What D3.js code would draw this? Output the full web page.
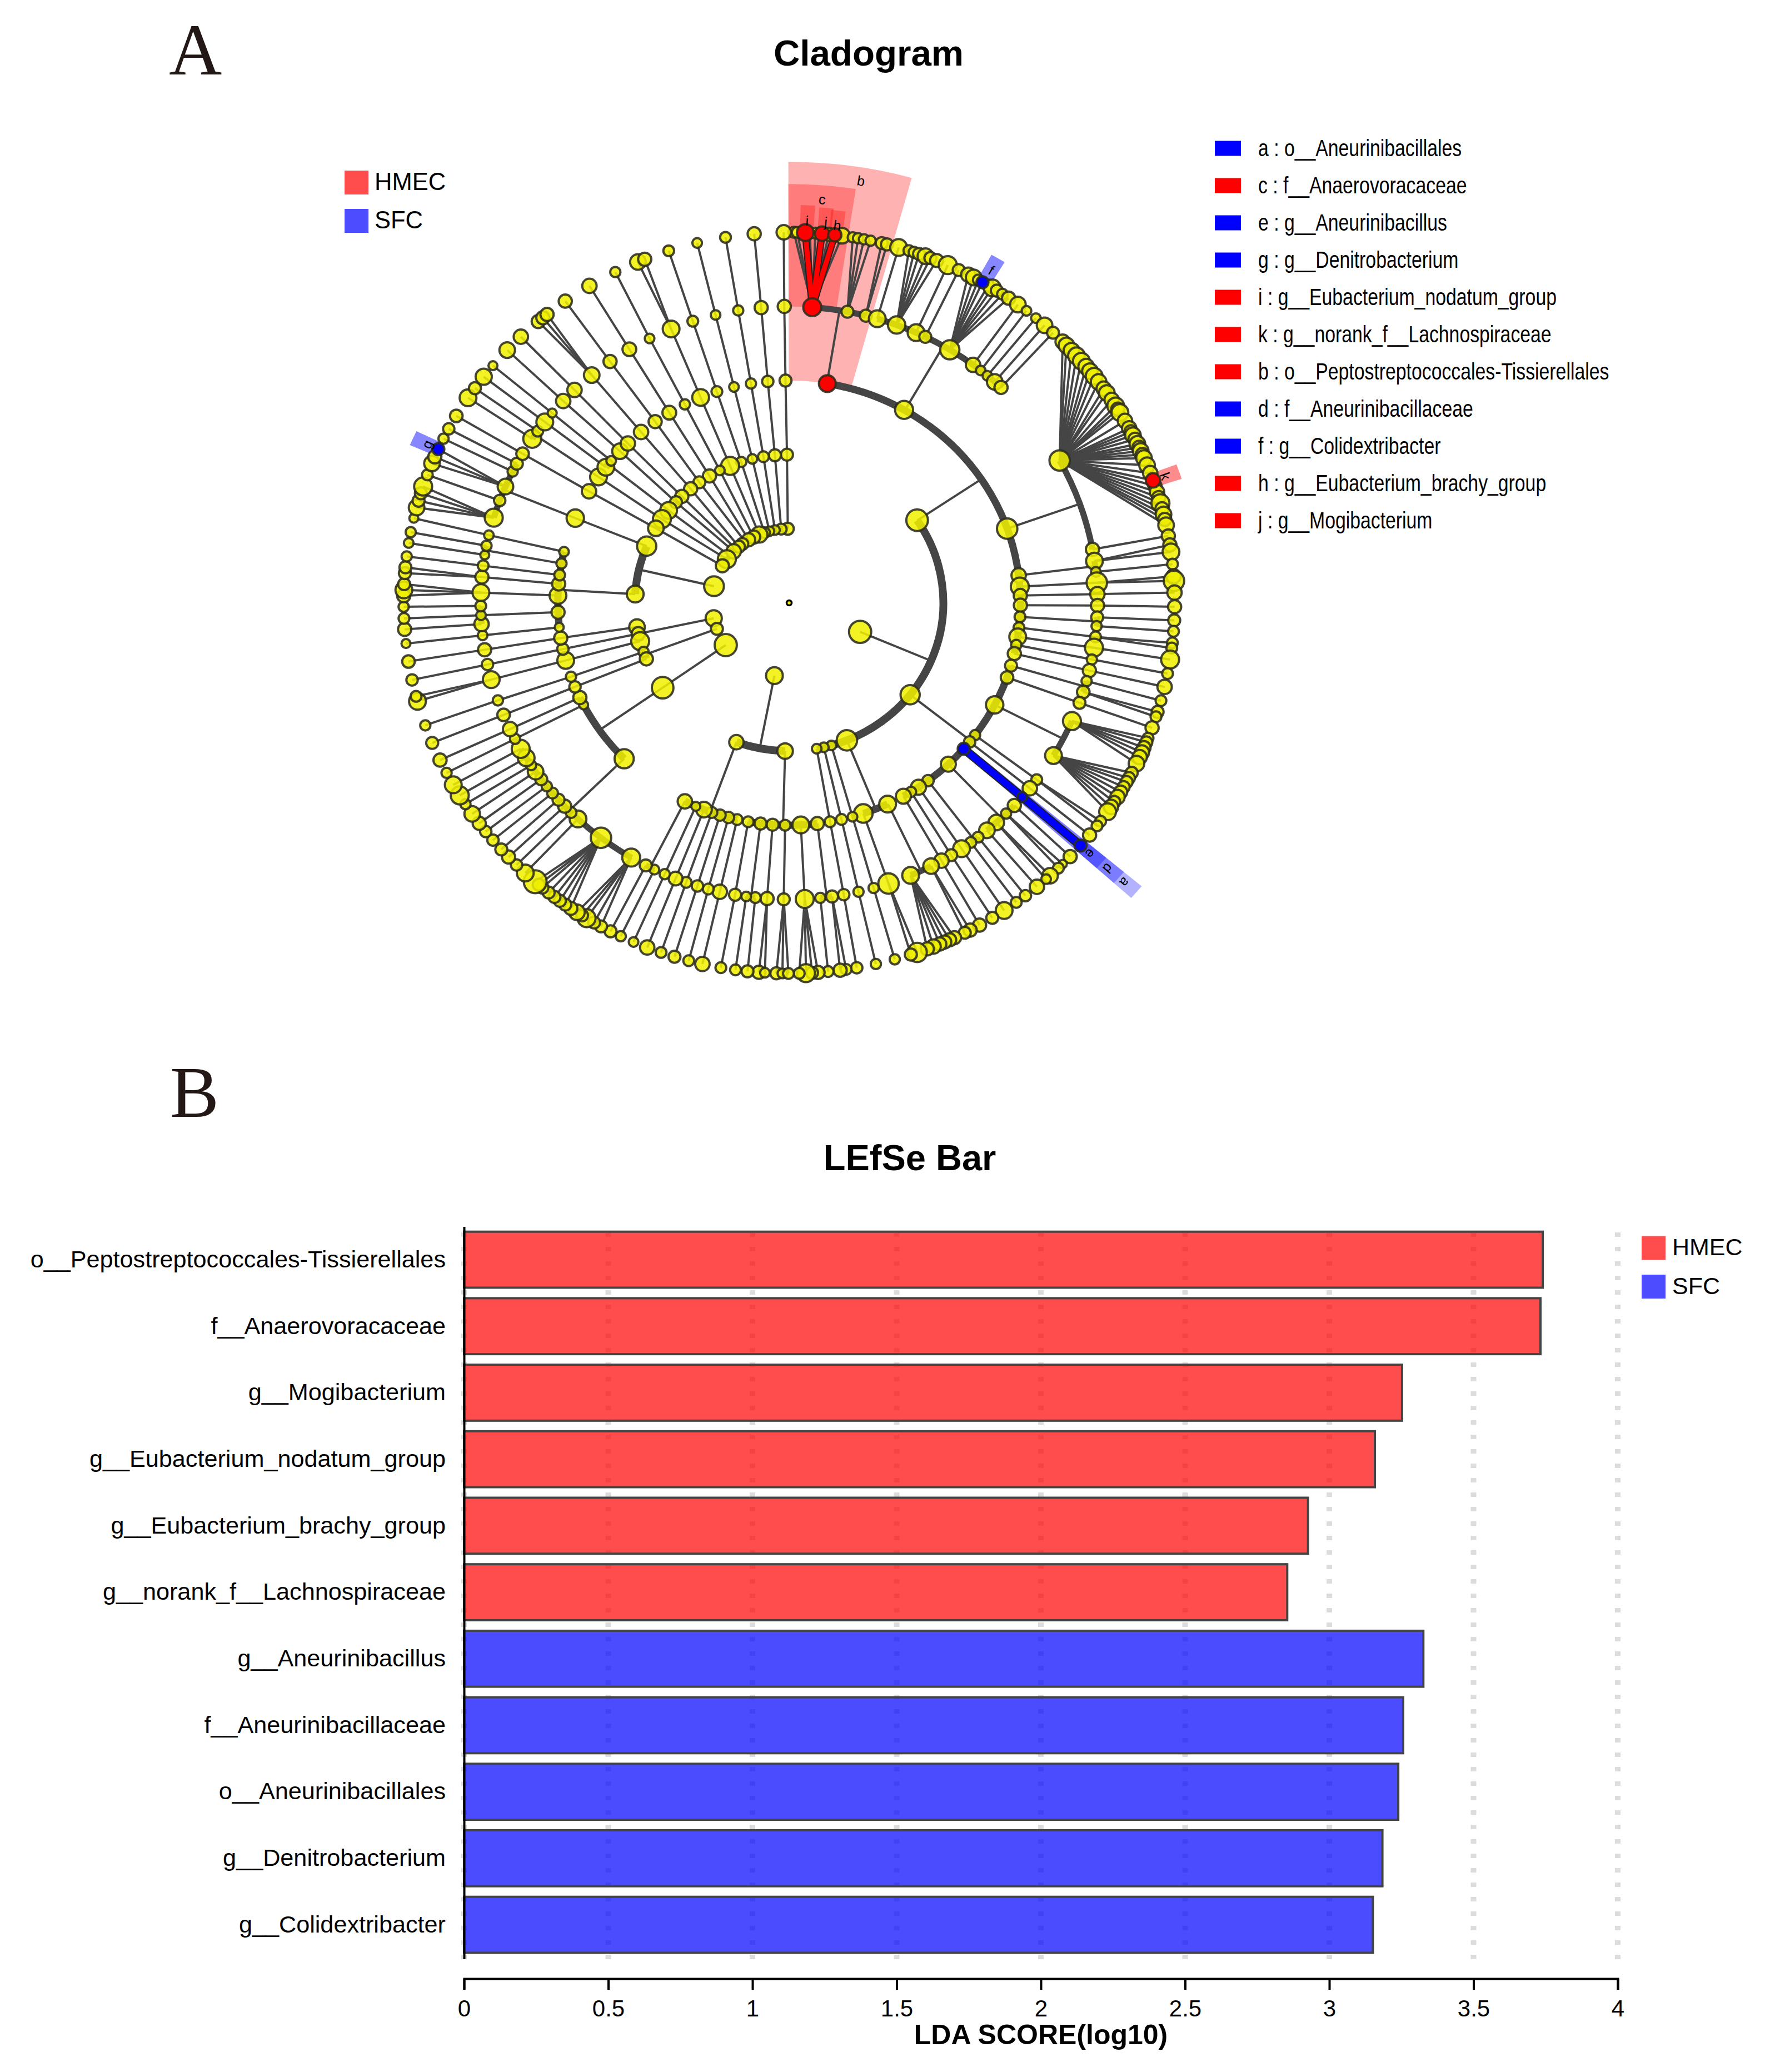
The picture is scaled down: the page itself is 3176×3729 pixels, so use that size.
<!DOCTYPE html>
<html>
<head>
<meta charset="utf-8">
<script src="https://cdnjs.cloudflare.com/ajax/libs/d3/7.8.5/d3.min.js"></script>
<style>
html,body{margin:0;padding:0;background:#fff}
svg{display:block}
text{font-family:"Liberation Sans",Arial,sans-serif;fill:#000}
</style>
</head>
<body>
<svg id="chart" width="3176" height="3729" viewBox="0 0 3176 3729"></svg>
<script>
// ---------- bar chart data ----------
const barTaxa = ["o__Peptostreptococcales-Tissierellales","f__Anaerovoracaceae","g__Mogibacterium","g__Eubacterium_nodatum_group","g__Eubacterium_brachy_group","g__norank_f__Lachnospiraceae","g__Aneurinibacillus","f__Aneurinibacillaceae","o__Aneurinibacillales","g__Denitrobacterium","g__Colidextribacter"];
const barScores = [3.744,3.736,3.256,3.162,2.93,2.858,3.33,3.26,3.243,3.188,3.155];
const barGroups = ["HMEC","HMEC","HMEC","HMEC","HMEC","HMEC","SFC","SFC","SFC","SFC","SFC"];
const ldaTicks = [0,0.5,1,1.5,2,2.5,3,3.5,4];
const groupNames = ["HMEC","SFC"];

// ---------- cladogram legend ----------
const cladeKeys = ["a : o__Aneurinibacillales","c : f__Anaerovoracaceae","e : g__Aneurinibacillus","g : g__Denitrobacterium","i : g__Eubacterium_nodatum_group","k : g__norank_f__Lachnospiraceae","b : o__Peptostreptococcales-Tissierellales","d : f__Aneurinibacillaceae","f : g__Colidextribacter","h : g__Eubacterium_brachy_group","j : g__Mogibacterium"];
const cladeKeyGroups = ["SFC","HMEC","SFC","SFC","HMEC","HMEC","HMEC","SFC","SFC","HMEC","HMEC"];

// ---------- cladogram nodes: [angle in degrees clockwise from top, node radius, parent angle on previous ring] ----------
const ring1 = [[-1,10],[-5.9,9],[-10.6,8],[-14.8,8],[-18.7,9],[-22.8,13.5],[-27.4,11],[-31.7,11],[-37.4,10],[-40.7,10],[-46,12],[-53.9,15],[-60,11],[-77,16.5],[-102,13.5],[-110.5,10],[-124.7,18.5],[-169,14],[113,18.5]];
const ring2 = [[-0.8,10,-1],[-5.3,10,-5.9],[-9.6,9,-10.6],[-13.8,8,-14.8],[-18.1,8.5,-18.7],[-22.5,15,-22.8],[-26.7,8,-27.4],[-31.1,11,-31.7],[-35.6,10,-34.6],[-39.7,11,-40.7],[-44.1,11,-43.5],[-47.2,10,-46],[-51.4,14,-50.5],[-55.6,15,-53.9],[-59.8,13,-60],[-67.5,16],[-86.6,14],[-99.4,13],[-102,11],[-105,15],[-109.3,8.5],[-112.2,11],[-124.9,18,-124.7],[-160,12],[-178.5,13],[56.1,18],[128.3,16],[158,17],[164.1,8],[167,8],[169.7,8]];
const ring3 = [[9.5,14],[29.8,15],[70.5,17],[82.9,12],[85.8,15],[88.1,11],[90.6,11],[93.6,9],[96.4,9],[98.8,14],[100.9,8.5],[103.2,11],[106.4,10],[109.6,10.5],[117.3,14.5],[126.5,8.5],[128.7,9.5],[131,10],[136.5,12.5],[143.1,9.5],[146,12.5],[148.2,8.5],[150.4,12.5],[154.8,14],[161.3,15.5],[164.1,8,164.1],[166.9,9,167],[169.8,9,169.7],[173,11],[177.1,14],[-179,9],[-175.9,10],[-172.9,10],[-169.8,9],[-167,9],[-164.8,9.5],[-162.6,9.5],[-160.5,9],[-158.4,13],[-156.2,7.5],[-153.2,12],[-134.5,16],[-117.3,7.5],[-115.2,11],[-112.2,9.5,-112.2],[-109.4,8.5,-109.3],[-105,14,-105],[-102,9.5,-102],[-99.1,11,-99.4],[-96.3,7.5],[-92.4,11],[-88.1,14],[-85.1,11],[-82.8,9],[-79.8,8.5],[-76.7,8],[-67.6,14.5,-67.5],[-59.9,12,-59.8],[-55.5,14,-55.6],[-52.4,14],[-50.3,8],[-47,13,-47.2],[-44.2,12,-44.1],[-39.8,12,-39.7],[-35.4,11,-35.6],[-31.2,11.5,-31.1],[-26.8,8.5,-26.7],[-22.5,14,-22.5],[-18.2,9,-18.1],[-13.8,8,-13.8],[-9.5,8.5,-9.6],[-5.3,9.5,-5.3],[-0.9,10,-0.8]];
const ring4 = [[4.3,15],[10.9,10],[14.4,10],[16.6,14],[20.4,14.5],[24.3,14],[26.2,10],[31.4,16],[36.6,12],[38.4,8],[40,8],[41.8,13],[43.4,11],[61.3,17],[79.6,11],[81.9,14],[84,8],[86.1,17,85.8],[88.3,12,88.1],[90.5,11,90.6],[92.8,10],[94.5,8.5],[96.6,9,96.4],[98.7,15,98.8],[101,8.5,100.9],[103.2,11,103.2],[105.3,8.5],[107.5,10.5],[109.7,10,109.6],[113.5,15],[121,14],[126.6,9,126.5],[128.7,12,128.7],[130.9,8],[133.1,11],[135.3,8.5],[137.8,13],[140.1,13],[142.2,9],[143.9,9],[146,14,146],[148.3,10,148.2],[150.4,12,150.4],[152.6,13],[156.8,14],[161.2,17,161.3],[164.1,8.5,164.1],[167,8.5,166.9],[169.8,9.5,169.8],[172,10],[174.2,8.5],[177.1,15,177.1],[-179,10,-179],[-175.9,11,-175.9],[-173.7,9],[-172,8],[-169.9,10,-169.8],[-167,12,-167],[-164.8,9,-164.8],[-162.7,9.5,-162.6],[-160.5,9,-160.5],[-158.4,11.5,-158.4],[-156.2,8.5,-156.2],[-154.1,8],[-152.3,10],[-149.2,15],[-142.4,17],[-136.8,14],[-135,9],[-133.3,11],[-131.6,10],[-129.9,9],[-128.2,8.5],[-126.5,10],[-124.7,13],[-123.2,8.5],[-121.5,14],[-119.5,15],[-117.3,8.5,-117.3],[-115.2,12,-115.2],[-112.2,10.5,-112.2],[-109.2,8.5,-109.4],[-105,14,-105],[-102,9.5,-102],[-99.1,11,-99.1],[-96.3,8,-96.3],[-94.1,12],[-92.4,8],[-90.6,9],[-88,14,-88.1],[-85,11,-85.1],[-82.8,9,-82.8],[-80.7,7.5],[-78.9,8.5],[-76.8,8,-76.7],[-73.3,15],[-69.8,9.5],[-66.9,13],[-63.7,8.5],[-62,10],[-59.8,10.5,-59.9],[-56.4,15],[-54.6,9],[-52.4,14,-52.4],[-50.2,7.5,-50.3],[-47.1,12,-47],[-44.1,12,-44.2],[-39.8,13,-39.8],[-35.5,11,-35.4],[-31.2,11.5,-31.2],[-26.9,8,-26.8],[-22.5,14,-22.5],[-18.2,9,-18.2],[-13.8,8,-13.8],[-9.5,8.5,-9.5],[-5.2,11,-5.3],[-0.9,11,-0.9]];
const ring5 = [[0.7,9,4.3],[1.2,9,4.3],[2.4,14,4.3],[3.1,9,4.3],[3.9,9,4.3],[4.9,12,4.3],[5.9,11,4.3],[6.8,11,4.3],[7.9,13,4.3],
[9.5,8.5,10.9],[10.3,8.5,10.9],[11.2,8.5,10.9],[12.2,8.5,10.9],[13.9,10,14.4],[14.7,10,14.4],[16.5,14,16.6],[18.1,9,20.4],[18.9,9,20.4],[19.7,10,20.4],[20.7,13,20.4],[21.5,10,20.4],[22.5,11,20.4],[24.3,15,24.3],[26.1,10,26.2],
[27.7,12,31.4],[28.6,13,31.4],[29.4,9,31.4],[30.1,10,31.4],[31.1,10,31.4],[31.8,14,31.4],[32.6,10,31.4],[33.6,9,31.4],[34.7,11,31.4],[36.4,13,36.6],[38,8,38.4],[39.8,8,40],[41.5,13,41.8],[43.2,10,43.4],
[45.2,12,61.3],[46,13,61.3],[47.1,13,61.3],[48.2,14,61.3],[49.3,14,61.3],[50.4,13,61.3],[51.3,13,61.3],[52.3,14,61.3],[53.4,13,61.3],[54.7,12,61.3],[55.5,13,61.3],[56.8,12,61.3],[57.9,14,61.3],[58.5,11,61.3],[59.1,14,61.3],[60.6,12,61.3],[61.9,12,61.3],[62.5,11,61.3],[63.1,13,61.3],[63.8,11,61.3],[64.6,13,61.3],[65.2,11,61.3],[65.8,13,61.3],[66.4,11,61.3],[67,13,61.3],[68.2,13,61.3],[69.5,12,61.3],[70.7,12,61.3],[71.6,11,61.3],[72.6,12,61.3],[73.5,11,61.3],[74.4,15,61.3],[75.3,11,61.3],[76.2,13,61.3],[77,11,61.3],[77.9,13,61.3],
[79.6,11,79.6],[81,11,81.9],[82.1,14,81.9],[84,9,84],[85.9,12,86.1],[86.6,17,86.1],[88.4,12,88.3],[90.6,11,90.5],[92.7,10,92.8],[94.4,9,94.5],[96.2,9,96.6],[97,9,96.6],[98.8,15,98.7],[101,9,101],[103.1,12,103.2],[105.3,9,105.3],[107.1,10,107.5],[107.9,9,107.5],[109.7,11,109.7],
[111.4,9,113.5],[112.1,10,113.5],[113,11,113.5],[113.8,12,113.5],[114.6,12,113.5],[115.7,13,113.5],[117.3,10,121],[118.2,10,121],[118.9,10,121],[119.8,10,121],[120.7,11,121],[121.6,12,121],[122.5,10,121],[123.4,12,121],[124.3,14,121],
[126.1,9,126.6],[127,9,126.6],[128.8,11,128.7],[130.9,10,130.9],[133.2,11,133.1],[134.8,7,135.3],[135.7,9,135.3],[137.4,13,137.8],[138.2,8,137.8],[140,12,140.1],[142.2,9.5,142.2],[143.9,9,143.9],[146.1,14,146],[148.2,10,148.3],[150.4,11,150.4],[152,11,152.6],[152.9,10,152.6],
[154.6,11,156.8],[155.4,11,156.8],[156.2,11,156.8],[157,11,156.8],[158,12,156.8],[159,11,156.8],[160.6,16,161.2],[161.6,10,161.2],[164.1,8.5,164.1],[167,8.5,167],[169.9,9.5,169.8],[171.5,9,172],[172.4,11,172],[174.2,9,174.2],[175.7,11,177.1],[176.6,10,177.1],[177.5,15,177.1],[178.5,9,177.1],
[-178.1,10,-179],[-179,8,-179],[-179.9,9,-179],[-175.5,11,-175.9],[-176.4,8,-175.9],[-173.8,10,-173.7],[-172,9,-172],[-169.8,9,-169.9],[-167,12,-167],[-164.9,9,-164.8],[-162.7,10,-162.7],[-160.6,9,-160.5],[-158.4,12,-158.4],[-156.2,8,-156.2],[-154.1,8.5,-154.1],[-152.4,10,-152.3],
[-150.8,10,-149.2],[-149.6,10,-149.2],[-148.3,15,-149.2],[-147.5,10,-149.2],[-146.6,13,-149.2],[-145.5,11,-142.4],[-144.5,10,-142.4],[-143.5,10,-142.4],[-142.5,10,-142.4],[-141.4,10,-142.4],[-140.2,10,-142.4],[-139.5,10,-142.4],[-138.8,19,-142.4],
[-136.8,14,-136.8],[-135,9.5,-135],[-133.3,11,-133.3],[-131.7,10,-131.6],[-129.8,9.5,-129.9],[-128.1,9.5,-128.2],[-126.5,11,-126.5],[-124.7,13,-124.7],[-122.9,8.5,-123.2],[-121.3,15,-121.5],[-119.4,14,-119.5],[-117.3,8.5,-117.3],[-115.1,11,-115.2],[-112.2,10,-112.2],[-109.3,8.5,-109.2],
[-105.4,14,-105],[-104.6,9,-105],[-102,9.5,-102],[-99.1,10.5,-99.1],[-96.3,7.5,-96.3],[-94.1,11,-94.1],[-92.4,9,-92.4],[-90.6,8.5,-90.6],[-88.9,11,-88],[-88,14,-88],[-87.1,10,-88],[-85.4,10,-85],[-84.5,10,-85],[-82.8,8.5,-82.8],[-80.7,8,-80.7],[-79,8.5,-78.9],[-76.8,7.5,-76.8],
[-75.1,13,-73.3],[-74,10,-73.3],[-72.8,10,-73.3],[-71.7,15,-73.3],[-69.8,9,-69.8],[-67.9,13,-66.9],[-66.8,11,-66.9],[-65.5,10,-66.9],[-63.7,8.5,-63.7],[-62,9.5,-62],[-59.7,10.5,-59.8],[-56.4,14,-56.4],[-54.6,10,-54.6],[-52.4,13.5,-52.4],[-50.2,7.5,-50.2],[-47,13,-47.1],[-44.1,12,-44.1],[-40.6,11,-39.8],[-39.7,11,-39.8],[-38.9,11,-39.8],[-35.5,11,-35.5],[-31.2,12,-31.2],[-26.8,8.5,-26.9],[-23.1,13,-22.5],[-22,11,-22.5],[-18.2,9,-18.2],[-13.8,8,-13.8],[-9.5,9,-9.5],[-5.2,11,-5.2],[-0.8,12,-0.9]];

// thick connecting arcs: [ring, from angle, to angle]
const cladeArcs = [[1,-60,-1],[2,56.1,169.7],[2,-178.5,-160],[2,-105,-99.4],[2,-112.2,-109.3],[2,-86.6,-67.5],[3,9.5,103.2],[3,106.4,150.4],[3,154.8,161.3],[3,-167,-153.2],[3,-187,-169.8],[3,-134.5,-115.2],[3,-96.3,-76.7],[3,-52.4,-50.3],[4,4.3,14.4],[4,16.6,43.4],[4,61.3,79.6],[4,81.9,84],[4,92.8,94.5],[4,105.3,107.5],[4,113.5,121],[4,133.1,140.1],[4,142.2,143.9],[4,152.6,156.8],[4,172,174.2],[4,-173.7,-172],[4,-154.1,-152.3],[4,-149.3,-119.5],[4,-94.1,-90.6],[4,-80.7,-78.9],[4,-73.3,-62],[4,-56.4,-54.6]];
// radial stems from a node to the arc on the next ring: [ring, angle]
const cladeStems = [[1,113],[1,-169],[1,-102],[1,-110.5],[1,-77],[2,56.2],[2,128.3],[2,158],[2,-160],[2,-178.5],[2,-86.6],[2,-124.9],[2,-51.4],[3,9.4],[3,30],[3,70.5],[3,82.9],[3,93.6],[3,106.4],[3,117.3],[3,136.5],[3,143.1],[3,154.7],[3,173],[3,-172.9],[3,-153.2],[3,-134.5],[3,-92.4],[3,-79.8],[3,-67.6],[3,-55.5]];

// highlighted clades
const redNodes = [[3,9.5],[4,4.3],[5,2.4],[5,4.9],[5,6.8],[5,70.7]];
const blueNodes = [[3,131],[4,130.9],[5,130.9],[5,30.1],[5,-65.5]];
const redLinks = [[4,4.3,5,2.4],[4,4.3,5,4.9],[4,4.3,5,6.8]];
const blueLinks = [[3,131,4,130.9],[4,130.9,5,130.9]];
// shaded sectors: [name, from angle, to angle, inner ring, outer ring, group]
const cladeSectors = [["b",-0.1,15.5,3,5.95,"HMEC"],["c",-0.1,8.8,4,5.65,"HMEC"],["i",1.6,3.6,5,5.37,"HMEC"],["j",4.2,6.2,5,5.35,"HMEC"],["h",5.9,7.9,5,5.33,"HMEC"],["f",29.2,31.3,5,5.38,"SFCs"],["g",-66.6,-64.4,5,5.36,"SFCs"],["k",69.6,71.8,5,5.36,"HMECs"],["a",129.9,131.9,3,5.96,"SFC"],["d",129.9,131.9,4,5.66,"SFC"],["e",129.9,131.9,5,5.36,"SFC"]];
// sector letters: [letter, angle, ring]
const sectorLetters = [["b",9.3,5.77],["c",4.5,5.46],["i",2.6,5.16],["j",5.3,5.16],["h",7,5.13],["f",30.3,5.2],["g",-65.5,5.16],["k",70.7,5.17],["e",130.9,5.17],["d",130.9,5.47],["a",130.9,5.76]];

const svg = d3.select("#chart");
svg.append("rect").attr("width",3176).attr("height",3729).attr("fill","#fff");

// ---------- panel titles ----------
const serif = '"Liberation Serif",serif';
[["A",304,134],["B",306,2010]].forEach(d=>{
  svg.append("text").text(d[0]).attr("x",d[1]).attr("y",d[2]).style("font-family",serif).style("fill","#231815").attr("font-size",132);
});
svg.append("text").text("Cladogram").attr("x",1563).attr("y",118).attr("text-anchor","middle").attr("font-weight","bold").attr("font-size",65.5);
svg.append("text").text("LEfSe Bar").attr("x",1637).attr("y",2106).attr("text-anchor","middle").attr("font-weight","bold").attr("font-size",65);

// ---------- cladogram ----------
const cx = 1420, cy = 1085, stretchX = 1.04;
const radius = d3.scaleLinear().domain([0,5]).range([0,667]);
const rad = d3.scaleLinear().domain([0,360]).range([0,2*Math.PI]);
const nodeSize = d3.scaleLinear().domain([0,20]).range([0,21.6]);
const pos = (ring,a)=>[cx+radius(ring)*stretchX*Math.sin(rad(a)), cy-radius(ring)*Math.cos(rad(a))];
const arcTo = (ring,a1)=>{const p=pos(ring,a1);const r=radius(ring);return `A${r*stretchX},${r} 0 0 1 ${p[0]},${p[1]}`;};
const arcBack = (ring,a0)=>{const p=pos(ring,a0);const r=radius(ring);return `A${r*stretchX},${r} 0 0 0 ${p[0]},${p[1]}`;};
const line2 = d3.line();

const gC = svg.append("g");
const sectorFill = {HMEC:["#ff0000",.3],SFC:["#0000ff",.3],SFCs:["#0000ff",.47],HMECs:["#ff0000",.45]};
gC.append("g").selectAll("path").data(cladeSectors).join("path")
  .attr("d",d=>{const a=pos(d[3],d[1]),b=pos(d[4],d[1]);return `M${a}L${b}${arcTo(d[4],d[2])}L${pos(d[3],d[2])}${arcBack(d[3],d[1])}Z`;})
  .attr("fill",d=>sectorFill[d[5]][0]).attr("fill-opacity",d=>sectorFill[d[5]][1]);

const gLines = gC.append("g").attr("stroke","#454545").attr("fill","none").attr("stroke-width",4);
[[ring2,2],[ring3,3],[ring4,4],[ring5,5]].forEach(([rows,k])=>{
  gLines.append("g").selectAll("path").data(rows.filter(d=>d.length>2)).join("path")
    .attr("d",d=>line2([pos(k,d[0]),pos(k-1,d[2])]));
});
gLines.append("g").selectAll("path").data(cladeStems).join("path")
  .attr("d",d=>line2([pos(d[0],d[1]),pos(d[0]+1,d[1])]));
const arcWidth = {1:9,2:14,3:13,4:11};
gC.append("g").attr("stroke","#454545").attr("fill","none").selectAll("path").data(cladeArcs).join("path")
  .attr("stroke-width",d=>arcWidth[d[0]])
  .attr("d",d=>`M${pos(d[0],d[1])}${arcTo(d[0],d[2])}`);

const linkLayer = (rows,color,w)=>{
  const g = gC.append("g").attr("fill","none");
  g.selectAll("path.o").data(rows).join("path").attr("class","o").attr("stroke","#222").attr("stroke-width",w+4).attr("d",d=>line2([pos(d[0],d[1]),pos(d[2],d[3])]));
  g.selectAll("path.i").data(rows).join("path").attr("class","i").attr("stroke",color).attr("stroke-width",w).attr("d",d=>line2([pos(d[0],d[1]),pos(d[2],d[3])]));
};
linkLayer(redLinks,"#ff0000",9);
linkLayer(blueLinks,"#0000ff",12);

const isIn = (list,k,a)=>list.some(d=>d[0]===k&&d[1]===a);
const nodeFill = (k,a)=>isIn(redNodes,k,a)?"#ff0000":isIn(blueNodes,k,a)?"#0000ff":"#f0f000";
[[ring1,1],[ring2,2],[ring3,3],[ring4,4],[ring5,5]].forEach(([rows,k])=>{
  const circles = gC.append("g").selectAll("circle").data(rows).join("circle")
    .attr("cx",d=>pos(k,d[0])[0]).attr("cy",d=>pos(k,d[0])[1]).attr("r",d=>nodeSize(d[1]))
    .attr("fill",d=>nodeFill(k,d[0])).attr("fill-opacity",d=>nodeFill(k,d[0])==="#f0f000"?.86:1)
    .attr("stroke","#2c2c1c").attr("stroke-opacity",.88).attr("stroke-width",4);
  circles.filter(d=>nodeFill(k,d[0])!=="#f0f000").raise();
});
gC.append("circle").attr("cx",cx).attr("cy",cy).attr("r",4.5).attr("fill","#f0f000").attr("stroke","#000").attr("stroke-width",3.5);

gC.append("g").selectAll("text").data(sectorLetters).join("text").text(d=>d[0])
  .attr("font-size",25).attr("text-anchor","middle").attr("dy",".35em")
  .attr("transform",d=>{const p=pos(d[2],d[1]);return `translate(${p[0]},${p[1]}) rotate(${d[1]})`;});

// cladogram legends
const groupColor = d3.scaleOrdinal().domain(groupNames).range(["#ff4d4d","#4d4dff"]);
const keyColor = d3.scaleOrdinal().domain(groupNames).range(["#ff0000","#0000ff"]);
const legendA = d3.scalePoint().domain(groupNames).range([328.5,397.5]);
groupNames.forEach(n=>{
  svg.append("rect").attr("x",620).attr("y",legendA(n)-21.5).attr("width",43).attr("height",43).attr("fill",groupColor(n));
  svg.append("text").text(n).attr("x",674).attr("y",legendA(n)+13).attr("font-size",43.5);
});
const keyY = d3.scalePoint().domain(cladeKeys).range([267,937]);
const gKeys = svg.append("g");
gKeys.selectAll("rect").data(cladeKeys).join("rect")
  .attr("x",2186).attr("width",47).attr("height",27).attr("y",d=>keyY(d)-13.5)
  .attr("fill",(d,i)=>keyColor(cladeKeyGroups[i]));
gKeys.selectAll("text").data(cladeKeys).join("text").text(d=>d)
  .attr("font-size",42.5).attr("dy",".32em")
  .attr("transform",d=>`translate(2264,${keyY(d)}) scale(.795,1)`);

// ---------- LEfSe bars ----------
const x = d3.scaleLinear().domain([0,4]).range([835,2911]);
const y = d3.scaleBand().domain(barTaxa).range([2207.5,3523.6]).paddingInner(.125).paddingOuter(.06);
const gBar = svg.append("g");
gBar.append("g").selectAll("line").data(ldaTicks).join("line")
  .attr("x1",d=>x(d)).attr("x2",d=>x(d)).attr("y1",2218).attr("y2",3532)
  .attr("stroke","#dcdcdc").attr("stroke-width",10).attr("stroke-dasharray","8 18");
gBar.append("g").selectAll("rect").data(barTaxa).join("rect")
  .attr("x",x(0)).attr("y",d=>y(d)+2).attr("height",y.bandwidth()-4)
  .attr("width",(d,i)=>x(barScores[i])-x(0)-2)
  .attr("fill",(d,i)=>barGroups[i]==="HMEC"?"#ff0000":"#0000ff").attr("fill-opacity",.7)
  .attr("stroke","#444").attr("stroke-width",4);
const yAxis = gBar.append("g").attr("transform",`translate(${x(0)},0)`)
  .call(d3.axisLeft(y).tickSize(0).tickPadding(33));
yAxis.select(".domain").attr("stroke","#000").attr("stroke-width",4).attr("d","M0.5,2208V3526");
yAxis.selectAll("text").attr("font-size",43.2);
const xAxis = gBar.append("g").attr("transform","translate(0,3561)")
  .call(d3.axisBottom(x).tickValues(ldaTicks).tickFormat(d3.format("~g")).tickSize(20).tickPadding(18));
xAxis.select(".domain").attr("stroke","#000").attr("stroke-width",4);
xAxis.selectAll(".tick line").attr("stroke","#000").attr("stroke-width",4);
xAxis.selectAll("text").attr("font-size",42);
gBar.append("text").text("LDA SCORE(log10)").attr("x",1873).attr("y",3679).attr("text-anchor","middle").attr("font-weight","bold").attr("font-size",50);

const legendB = d3.scalePoint().domain(groupNames).range([2246,2315.5]);
groupNames.forEach(n=>{
  gBar.append("rect").attr("x",2954).attr("y",legendB(n)-21.5).attr("width",43).attr("height",43).attr("fill",groupColor(n));
  gBar.append("text").text(n).attr("x",3009).attr("y",legendB(n)+13).attr("font-size",43);
});
</script>
</body>
</html>
